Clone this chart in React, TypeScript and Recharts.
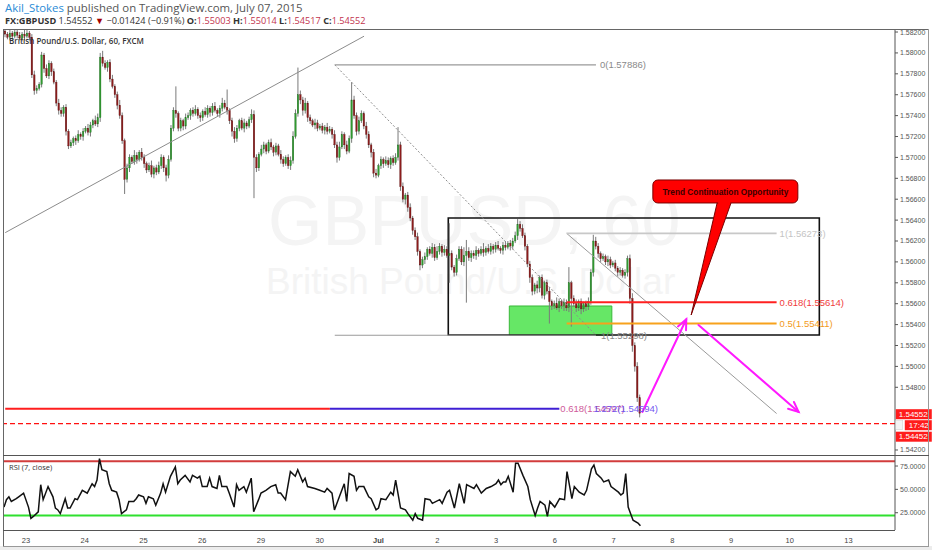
import React from "react";
import {
  ComposedChart,
  Bar,
  Line,
  XAxis,
  YAxis,
  ReferenceLine,
  ReferenceArea,
  ReferenceDot,
} from "recharts";

const FONT = '"Liberation Sans", Arial, sans-serif';
const SLOTS = 365; // hourly slots incl. empty future space on the right
const PIP = 0.0001;
const firstOpen = 1.5821;

// hourly closes, GBPUSD 60, Jun 22 afternoon -> Jul 7 11:00
const closes = [
  1.5818, 1.5815, 1.5819, 1.5816, 1.582, 1.5817, 1.5814, 1.5818, 1.5816, 1.5819, 1.5815, 1.5779, 1.5764, 1.5766, 1.577, 1.5798, 1.5785, 1.5778, 1.579, 1.5782, 1.5772, 1.5752, 1.5745, 1.5742,
  1.5748, 1.5725, 1.5711, 1.5714, 1.5718, 1.5716, 1.5722, 1.572, 1.5725, 1.5728, 1.5724, 1.5731, 1.5735, 1.5732, 1.5738, 1.5796, 1.579, 1.5786, 1.5791, 1.5775, 1.5768, 1.576, 1.575, 1.574,
  1.5716, 1.5679, 1.569, 1.57, 1.5696, 1.5702, 1.5698, 1.5705, 1.57, 1.5694, 1.5688, 1.5692, 1.5684, 1.569, 1.5686, 1.5692, 1.57, 1.569, 1.5683, 1.5698, 1.5728, 1.5745, 1.5742, 1.5728,
  1.5735, 1.573, 1.5738, 1.574, 1.5745, 1.5742, 1.5746, 1.574, 1.5738, 1.5744, 1.5741, 1.5747, 1.5743, 1.5749, 1.5745, 1.5742, 1.5747, 1.5752, 1.5748, 1.5745, 1.5735, 1.5725, 1.5718, 1.5728,
  1.5735, 1.5728, 1.5733, 1.573, 1.5736, 1.5741, 1.57, 1.569, 1.5703, 1.5708, 1.5712, 1.5706, 1.5714, 1.571, 1.5705, 1.5711, 1.5703, 1.5698, 1.5694, 1.57, 1.5692, 1.5697, 1.572, 1.5742,
  1.576, 1.5755, 1.5745, 1.5752, 1.5738, 1.5735, 1.5731, 1.5733, 1.5728, 1.573, 1.5726, 1.5729, 1.5725, 1.5727, 1.5722, 1.5712, 1.57, 1.571, 1.5722, 1.5712, 1.5706, 1.5718, 1.5755, 1.574,
  1.5725, 1.5735, 1.5742, 1.573, 1.5722, 1.5712, 1.5705, 1.5685, 1.5683, 1.5692, 1.5698, 1.5694, 1.5697, 1.5693, 1.5699, 1.5695, 1.57, 1.5712, 1.5672, 1.566, 1.5664, 1.5652, 1.5642, 1.563,
  1.5624, 1.561, 1.5597, 1.5602, 1.5605, 1.5612, 1.5608, 1.5614, 1.5604, 1.561, 1.5615, 1.5609, 1.5612, 1.5606, 1.5608, 1.5595, 1.559, 1.5603, 1.5612, 1.56, 1.5606, 1.561, 1.5604, 1.5608,
  1.5606, 1.5611, 1.5608, 1.5612, 1.5609, 1.5613, 1.561, 1.5615, 1.5612, 1.5616, 1.5613, 1.5611, 1.5616, 1.5614, 1.5618, 1.5615, 1.562, 1.5625, 1.5636, 1.5632, 1.5625, 1.5615, 1.5598, 1.5585,
  1.5572, 1.5578, 1.5575, 1.5585, 1.5568, 1.558, 1.5572, 1.5562, 1.5558, 1.556, 1.5556, 1.5562, 1.5558, 1.5561, 1.5556, 1.558, 1.5565, 1.556, 1.5556, 1.5562, 1.5555, 1.556, 1.5557, 1.5562,
  1.559, 1.562, 1.5615, 1.5608, 1.5603, 1.5605, 1.56, 1.5602, 1.5597, 1.5599, 1.5594, 1.559, 1.5592, 1.5587, 1.559, 1.5603, 1.5565, 1.552, 1.55, 1.547, 1.54552,
];

// wick lengths in pips above / below the body
const wickUp = [
  3, 2, 4, 2, 3, 2, 3, 2, 4, 3, 2, 3, 4, 3, 2, 3, 2, 4, 3, 2, 3, 2, 4, 3,
  2, 3, 2, 3, 2, 3, 4, 2, 3, 2, 4, 3, 2, 5, 4, 4, 6, 3, 2, 3, 4, 2, 3, 5,
  3, 2, 4, 3, 2, 5, 3, 2, 4, 3, 2, 3, 5, 2, 3, 4, 3, 2, 3, 4, 3, 3, 23, 2,
  3, 2, 4, 3, 2, 3, 4, 2, 3, 2, 4, 3, 2, 3, 4, 2, 3, 5, 3, 17, 2, 3, 4, 3,
  2, 3, 4, 2, 3, 5, 4, 3, 2, 4, 3, 2, 3, 4, 2, 3, 2, 4, 3, 2, 3, 4, 5, 4,
  26, 4, 3, 5, 2, 3, 2, 4, 3, 2, 3, 2, 4, 3, 2, 4, 3, 5, 3, 2, 4, 3, 17, 4,
  3, 4, 3, 2, 4, 3, 2, 3, 4, 2, 3, 2, 4, 3, 2, 3, 4, 17, 3, 4, 2, 3, 4, 2,
  3, 4, 2, 3, 4, 2, 3, 4, 3, 5, 3, 2, 4, 3, 29, 3, 2, 4, 3, 3, 8, 11, 4, 3,
  3, 4, 2, 3, 6, 2, 4, 3, 2, 3, 4, 2, 3, 4, 2, 3, 3, 4, 5, 3, 4, 3, 2, 3,
  3, 2, 4, 2, 3, 2, 3, 4, 2, 3, 6, 3, 2, 4, 3, 15, 2, 3, 4, 2, 3, 2, 3, 4,
  3, 6, 4, 3, 2, 3, 2, 4, 3, 2, 3, 2, 3, 2, 3, 3, 4, 5, 3, 4, 3,
];
const wickDn = [
  3, 2, 3, 4, 2, 3, 2, 3, 4, 2, 3, 3, 4, 3, 2, 3, 4, 2, 3, 4, 2, 3, 4, 3,
  3, 4, 3, 2, 3, 4, 2, 3, 4, 2, 3, 4, 3, 2, 3, 4, 3, 2, 4, 3, 2, 3, 4, 3,
  3, 14, 3, 4, 2, 3, 4, 2, 3, 4, 3, 2, 3, 4, 3, 2, 3, 4, 6, 3, 2, 3, 4, 3,
  3, 4, 3, 2, 4, 3, 2, 3, 4, 3, 2, 3, 4, 3, 2, 3, 4, 3, 2, 4, 3, 5, 4, 3,
  3, 2, 4, 3, 2, 3, 39, 4, 3, 2, 4, 3, 2, 3, 4, 3, 2, 4, 3, 2, 3, 4, 3, 2,
  3, 4, 5, 3, 4, 3, 2, 4, 3, 2, 3, 4, 3, 2, 4, 3, 5, 3, 2, 4, 3, 2, 4, 3,
  4, 3, 2, 3, 4, 3, 5, 4, 3, 2, 3, 4, 2, 3, 4, 3, 2, 3, 4, 3, 5, 4, 3, 4,
  3, 4, 5, 3, 4, 3, 2, 4, 3, 2, 3, 4, 3, 2, 26, 3, 4, 3, 2, 3, 4, 45, 3, 4,
  3, 4, 3, 2, 4, 3, 2, 3, 4, 3, 2, 3, 4, 3, 2, 4, 3, 2, 4, 3, 2, 4, 3, 5,
  4, 3, 5, 4, 3, 4, 3, 21, 4, 3, 2, 4, 3, 5, 3, 4, 27, 3, 4, 3, 5, 3, 4, 3,
  3, 4, 3, 4, 3, 2, 3, 4, 3, 2, 3, 4, 3, 2, 3, 4, 5, 6, 5, 4, 4,
];

// RSI(7) readings [bar index, value]
const rsiReadings: [number, number][] = [
  [0, 31], [1, 39], [2, 42], [3, 37], [5, 40], [6, 42], [8, 46], [10, 31], [11, 19], [12, 21], [14, 26], [15, 55],
  [16, 39], [18, 53], [20, 42], [21, 30], [22, 28], [23, 24], [25, 40], [26, 30], [27, 30], [29, 40], [30, 39],
  [32, 49], [34, 46], [36, 56], [37, 53], [38, 60], [39, 83], [40, 71], [42, 69], [43, 56], [44, 49], [46, 47],
  [47, 39], [48, 24], [50, 28], [51, 37], [53, 37], [54, 40], [55, 44], [57, 42], [58, 35], [59, 42], [61, 40],
  [62, 33], [64, 46], [65, 56], [66, 47], [68, 64], [70, 74], [71, 56], [72, 60], [74, 65], [76, 58], [77, 65],
  [79, 62], [80, 64], [81, 53], [83, 53], [84, 62], [85, 53], [87, 51], [88, 65], [89, 53], [91, 53], [92, 46],
  [94, 31], [95, 55], [96, 49], [98, 53], [99, 47], [101, 62], [102, 26], [104, 39], [105, 46], [107, 49],
  [109, 53], [111, 55], [112, 46], [113, 46], [115, 39], [117, 69], [119, 64], [120, 71], [122, 58], [123, 62],
  [124, 53], [127, 51], [129, 49], [131, 47], [132, 51], [134, 46], [135, 28], [137, 42], [139, 56], [140, 37],
  [141, 67], [143, 64], [144, 49], [145, 53], [147, 53], [149, 42], [150, 40], [152, 28], [153, 30], [154, 40],
  [156, 39], [158, 47], [159, 44], [160, 60], [162, 30], [164, 28], [165, 24], [167, 17], [168, 24], [169, 19],
  [171, 17], [172, 40], [174, 39], [175, 35], [178, 39], [179, 35], [181, 47], [182, 49], [184, 30], [186, 56],
  [188, 35], [189, 55], [192, 51], [193, 55], [195, 46], [197, 51], [199, 53], [201, 56], [202, 60], [203, 55],
  [204, 58], [205, 58], [206, 64], [208, 47], [209, 78], [210, 78], [212, 65], [214, 53], [215, 39], [217, 22],
  [218, 30], [219, 37], [221, 33], [222, 21], [223, 37], [225, 31], [227, 40], [229, 39], [230, 69], [232, 40],
  [233, 53], [235, 47], [237, 44], [238, 49], [240, 72], [241, 76], [242, 67], [244, 62], [245, 58], [247, 60],
  [248, 53], [251, 47], [252, 44], [253, 46], [254, 67], [255, 31], [256, 24], [257, 17], [259, 14], [260, 11],
];

const dayTicks = [9, 33, 57, 81, 105, 129, 153, 177, 201, 225, 249, 273, 297, 321, 345];
const dayLabels = ["23", "24", "25", "26", "29", "30", "Jul", "2", "3", "6", "7", "8", "9", "10", "13"];
const priceTicks = [1.542, 1.548, 1.55, 1.552, 1.554, 1.556, 1.558, 1.56, 1.562, 1.564, 1.566, 1.568, 1.57, 1.572, 1.574, 1.576, 1.578, 1.58, 1.582];
const rsiTicks = [25, 50, 75];

const P_MIN = 1.54152;
const P_MAX = 1.58229;

const candleRows = Array.from({ length: SLOTS }, (_, t) => {
  const c = closes[t];
  if (c === undefined) return { t };
  const o = t === 0 ? firstOpen : closes[t - 1];
  return {
    t,
    o,
    c,
    high: Math.max(o, c) + wickUp[t] * PIP,
    low: Math.min(o, c) - wickDn[t] * PIP,
  };
});

const rsiMap = new Map(rsiReadings);
const rsiRows = Array.from({ length: SLOTS }, (_, t) => ({
  t,
  rsi: rsiMap.has(t) ? rsiMap.get(t) : null,
}));

function Candle(props: any) {
  const { x, y, width, height, payload } = props;
  if (!payload || payload.c === undefined || !height) return null;
  const { o, c, high, low } = payload;
  const k = height / (high - low);
  const cx = x + width / 2;
  const yO = y + (high - o) * k;
  const yC = y + (high - c) * k;
  const up = c >= o;
  const top = Math.min(yO, yC);
  const h = Math.max(1, Math.abs(yO - yC));
  const bw = Math.max(1.3, width * 0.78);
  return (
    <g>
      <line x1={cx} x2={cx} y1={y} y2={y + height} stroke="#7a7a7a" strokeWidth={1} />
      <rect
        x={cx - bw / 2}
        y={top}
        width={bw}
        height={h}
        fill={up ? "#2f9a2f" : "#8c1c1c"}
        stroke={up ? "#2a6e2a" : "#5e1414"}
        strokeWidth={0.3}
      />
    </g>
  );
}

function Arrow(props: any) {
  const { x1, y1, x2, y2 } = props;
  const a = Math.atan2(y2 - y1, x2 - x1);
  const L = 11;
  const s = 0.42;
  const h1 = `${x2 - L * Math.cos(a - s)},${y2 - L * Math.sin(a - s)}`;
  const h2 = `${x2 - L * Math.cos(a + s)},${y2 - L * Math.sin(a + s)}`;
  return (
    <g stroke="#ff1aff" strokeWidth={2} fill="none" strokeLinecap="round">
      <line x1={x1} y1={y1} x2={x2} y2={y2} />
      <polyline points={`${h1} ${x2},${y2} ${h2}`} />
    </g>
  );
}

function Callout(props: any) {
  const { x1, y1, x2, y2 } = props;
  const w = 145;
  const h = 23;
  const left = x1 - w / 2;
  const top = y1 - h / 2;
  const bottom = top + h;
  return (
    <g>
      <path d={`M${x1 - 8},${bottom - 1} L${x2},${y2} L${x1 + 6},${bottom - 1} Z`} fill="#ff0000" stroke="#7a0000" strokeWidth={1} />
      <rect x={left} y={top} width={w} height={h} rx={5} fill="#ff0000" stroke="#7a0000" strokeWidth={1} />
      <path d={`M${x1 - 7.3},${bottom - 2} L${x1 + 5.3},${bottom - 2} L${x1 + 4.6},${bottom + 1.5} L${x1 - 7},${bottom + 1.5} Z`} fill="#ff0000" />
      <text x={x1} y={y1 + 0.5} textAnchor="middle" dominantBaseline="central" fontSize={8.3} fontWeight={700} fill="#3a0000" fontFamily={FONT}>
        Trend Continuation Opportunity
      </text>
    </g>
  );
}

const textMark = (text: string, color: string, dx = 3) => (p: any) => (
  <text x={p.cx + dx} y={p.cy} dominantBaseline="central" fontSize={9.5} fill={color} fontFamily={FONT}>
    {text}
  </text>
);

function PriceTags(p: any) {
  const x = p.cx + 2;
  const y = p.cy;
  return (
    <g fontFamily={FONT} fontSize={8}>
      <rect x={x} y={y - 4} width={36} height={10} fill="#ff1c1c" />
      <text x={x + 3} y={y + 1} dominantBaseline="central" fill="#fff">1.54552</text>
      <rect x={x} y={y + 7.5} width={7} height={9} fill="#f4f4f4" stroke="#ccc" strokeWidth={0.5} />
      <rect x={x + 9} y={y + 7} width={27} height={10} fill="#ff1c1c" />
      <text x={x + 13} y={y + 12} dominantBaseline="central" fill="#fff">17:42</text>
      <rect x={x} y={y + 18.5} width={36} height={10} fill="#ff1c1c" />
      <text x={x + 3} y={y + 23.5} dominantBaseline="central" fill="#fff">1.54452</text>
    </g>
  );
}

function DayTick(props: any) {
  const { x, y, payload } = props;
  const i = dayTicks.indexOf(payload.value);
  if (i < 0) return null;
  const label = dayLabels[i];
  return (
    <text x={x} y={y + 7} textAnchor="middle" fontSize={7.5} fill="#444" fontWeight={label === "Jul" ? 700 : 400} fontFamily={FONT}>
      {label}
    </text>
  );
}

export default function App() {
  return (
    <div style={{ position: "absolute", left: 0, top: 0, width: 932, height: 550, background: "#fff", overflow: "hidden", fontFamily: FONT }}>
      {/* header */}
      <div style={{ position: "absolute", left: 5, top: 0, fontSize: 11.4, fontFamily: '"Open Sans"', color: "#555", whiteSpace: "nowrap", lineHeight: "15px" }}>
        <span style={{ color: "#2a8bd6" }}>Akil_Stokes</span> published on TradingView.com, July 07, 2015
      </div>
      <div style={{ position: "absolute", left: 5, top: 14, fontSize: 9.2, fontFamily: '"Open Sans"', color: "#333", whiteSpace: "nowrap" }}>
        <b>FX:GBPUSD</b> 1.54552 <span style={{ color: "#a30000" }}>▼</span> −0.01424 (−0.91%) <b>O:</b>
        <span style={{ color: "#c2334d" }}>1.55003</span> <b>H:</b>
        <span style={{ color: "#c2334d" }}>1.55014</span> <b>L:</b>
        <span style={{ color: "#c2334d" }}>1.54517</span> <b>C:</b>
        <span style={{ color: "#c2334d" }}>1.54552</span>
      </div>

      {/* watermark */}
      <div style={{ position: "absolute", left: 268, top: 198, fontSize: 70, color: "#f4f4f4", whiteSpace: "nowrap", lineHeight: "46px" }}>
        GBPUSD, 60
      </div>
      <div style={{ position: "absolute", left: 266, top: 262, fontSize: 37, color: "#f4f4f4", whiteSpace: "nowrap", lineHeight: "40px" }}>
        British Pound/U.S. Dollar
      </div>

      {/* price pane */}
      <div style={{ position: "absolute", left: 0, top: 0 }}>
        <ComposedChart width={932} height={457} data={candleRows} margin={{ top: 29, right: 0, bottom: 2, left: 4 }} barCategoryGap={0}>
          <XAxis dataKey="t" type="category" hide />
          <YAxis
            orientation="right"
            domain={[P_MIN, P_MAX]}
            allowDataOverflow
            ticks={priceTicks}
            interval={0}
            tickFormatter={(v: number) => v.toFixed(5)}
            tick={{ fontSize: 7, fill: "#555", fontFamily: FONT }}
            tickSize={3}
            tickMargin={2}
            axisLine={{ stroke: "#555" }}
            tickLine={{ stroke: "#555" }}
            width={37}
          />
          <ReferenceArea x1={207} x2={248} y1={1.553} y2={1.55578} fill="#5ee65e" fillOpacity={0.95} stroke="#39b839" strokeWidth={1} />
          <ReferenceArea x1={182} x2={333} y1={1.553} y2={1.5642} fill="none" fillOpacity={0} stroke="#111" strokeWidth={1.6} />
          <Bar dataKey={(d: any) => (d.c === undefined ? null : [d.low, d.high])} shape={<Candle />} isAnimationActive={false} />

          {/* trend lines */}
          <ReferenceLine segment={[{ x: 0, y: 1.5628 }, { x: 147, y: 1.5816 }]} stroke="#8c8c8c" strokeWidth={1} />
          <ReferenceLine segment={[{ x: 135, y: 1.57886 }, { x: 242, y: 1.55298 }]} stroke="#8c8c8c" strokeWidth={1} strokeDasharray="2 2" />
          <ReferenceLine segment={[{ x: 230, y: 1.56273 }, { x: 316, y: 1.54549 }]} stroke="#9a9a9a" strokeWidth={1} />

          {/* fib retracement 1 */}
          <ReferenceLine segment={[{ x: 135, y: 1.57886 }, { x: 242, y: 1.57886 }]} stroke="#9a9a9a" strokeWidth={1.2} />
          <ReferenceLine segment={[{ x: 135, y: 1.55298 }, { x: 242, y: 1.55298 }]} stroke="#9a9a9a" strokeWidth={1.2} />
          <ReferenceDot x={242} y={1.57886} r={1} shape={textMark("0(1.57886)", "#8a8a8a", 4)} />
          <ReferenceDot x={242} y={1.55298} r={1} shape={textMark("1(1.55298)", "#8a8a8a", 5)} />

          {/* fib retracement 2 */}
          <ReferenceLine segment={[{ x: 230, y: 1.56273 }, { x: 316, y: 1.56273 }]} stroke="#c8c8c8" strokeWidth={1.6} />
          <ReferenceLine segment={[{ x: 230, y: 1.55614 }, { x: 316, y: 1.55614 }]} stroke="#ff2020" strokeWidth={2} />
          <ReferenceLine segment={[{ x: 230, y: 1.55411 }, { x: 316, y: 1.55411 }]} stroke="#f7a21c" strokeWidth={2} />
          <ReferenceDot x={316} y={1.56273} r={1} shape={textMark("1(1.56273)", "#c4c4c4")} />
          <ReferenceDot x={316} y={1.55614} r={1} shape={textMark("0.618(1.55614)", "#f03c3c")} />
          <ReferenceDot x={316} y={1.55411} r={1} shape={textMark("0.5(1.55411)", "#f29a1a")} />

          {/* extension level */}
          <ReferenceLine segment={[{ x: 0, y: 1.54594 }, { x: 133, y: 1.54594 }]} stroke="#ff1e1e" strokeWidth={2} />
          <ReferenceLine segment={[{ x: 133, y: 1.54594 }, { x: 227, y: 1.54594 }]} stroke="#3f1fd4" strokeWidth={2} />
          <ReferenceDot x={227} y={1.54594} r={1} shape={textMark("0.618(1.54597)", "#cf5a9a", 1)} />
          <ReferenceDot x={241} y={1.54594} r={1} shape={textMark("1.272(1.54594)", "#7257f0", 0)} />

          {/* bid line */}
          <ReferenceLine y={1.54452} stroke="#ff1010" strokeWidth={1.3} strokeDasharray="5 3" />

          {/* projected path */}
          <ReferenceLine segment={[{ x: 261, y: 1.54564 }, { x: 279, y: 1.55451 }]} shape={<Arrow />} />
          <ReferenceLine segment={[{ x: 284, y: 1.55396 }, { x: 325, y: 1.54564 }]} shape={<Arrow />} />

          {/* callout */}
          <ReferenceLine segment={[{ x: 295, y: 1.56674 }, { x: 281, y: 1.55492 }]} shape={<Callout />} />

          <ReferenceDot x={364} y={1.54552} r={1} ifOverflow="visible" shape={PriceTags} />
        </ComposedChart>
      </div>

      {/* RSI pane */}
      <div style={{ position: "absolute", left: 0, top: 455 }}>
        <ComposedChart width={932} height={91} data={rsiRows} margin={{ top: 0, right: 0, bottom: 0, left: 4 }}>
          <XAxis
            dataKey="t"
            type="category"
            ticks={dayTicks}
            interval={0}
            tick={<DayTick />}
            axisLine={false}
            tickLine={false}
            tickSize={4}
            tickMargin={2}
            height={16}
          />
          <YAxis
            orientation="right"
            domain={[6.5, 86.8]}
            allowDataOverflow
            ticks={rsiTicks}
            interval={0}
            tickFormatter={(v: number) => v.toFixed(4)}
            tick={{ fontSize: 7, fill: "#555", fontFamily: FONT }}
            tickSize={3}
            tickMargin={2}
            axisLine={{ stroke: "#555" }}
            tickLine={{ stroke: "#555" }}
            width={37}
          />
          <ReferenceLine y={80} stroke="#d23c3c" strokeWidth={2} />
          <ReferenceLine y={22} stroke="#2fe02f" strokeWidth={2} />
          <Line dataKey="rsi" stroke="#111" strokeWidth={1.5} dot={false} connectNulls isAnimationActive={false} />
        </ComposedChart>
      </div>

      <div style={{ position: "absolute", left: 9, top: 462, fontSize: 7.5, color: "#333", fontFamily: '"Open Sans"', whiteSpace: "nowrap" }}>
        RSI (7, close)
      </div>
      <div style={{ position: "absolute", left: 9, top: 35, fontSize: 8, fontWeight: 600, color: "#333", fontFamily: '"Open Sans"', whiteSpace: "nowrap" }}>
        British Pound/U.S. Dollar, 60, FXCM
      </div>

      {/* pane frame */}
      <svg width={932} height={550} style={{ position: "absolute", left: 0, top: 0, pointerEvents: "none" }}>
        <rect x={0} y={546} width={932} height={4} fill="#ececec" />
        <line x1={3.5} y1={29} x2={3.5} y2={546} stroke="#666" />
        <line x1={3} y1={29.5} x2={929} y2={29.5} stroke="#666" />
        <line x1={928.5} y1={29} x2={928.5} y2={546} stroke="#999" />
        <line x1={3} y1={455.5} x2={929} y2={455.5} stroke="#555" />
        <line x1={3} y1={530.5} x2={895} y2={530.5} stroke="#555" />
        <line x1={3} y1={546.5} x2={929} y2={546.5} stroke="#999" />
      </svg>
    </div>
  );
}
